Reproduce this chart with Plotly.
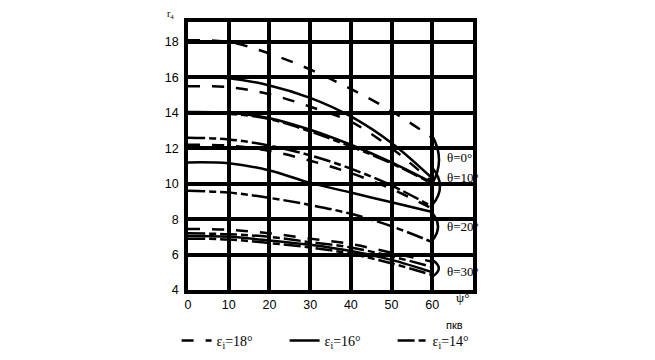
import plotly.graph_objects as go

# crank angle, degrees
psi = [0, 10, 20, 30, 40, 50, 60]

# theta = 0 deg group
r_t0_e18 = [18.1, 18.0, 17.35, 16.45, 15.35, 14.1, 12.6]
r_t0_e16 = [16.0, 15.95, 15.55, 14.85, 13.8, 12.3, 10.3]
r_t0_e14 = [14.0, 13.95, 13.65, 12.95, 12.1, 11.15, 10.0]
# theta = 10 deg group
r_t10_e18 = [15.5, 15.45, 15.05, 14.35, 13.5, 12.0, 10.1]
r_t10_e16 = [14.05, 14.0, 13.7, 13.05, 12.2, 11.2, 10.05]
r_t10_e14 = [12.6, 12.5, 12.15, 11.6, 10.85, 9.9, 8.7]
# theta = 20 deg group
r_t20_e18 = [12.2, 12.15, 11.85, 11.3, 10.6, 9.7, 8.6]
r_t20_e16 = [11.2, 11.15, 10.75, 10.05, 9.5, 8.95, 8.4]
r_t20_e14 = [9.6, 9.5, 9.2, 8.8, 8.3, 7.6, 6.7]
# theta = 30 deg group
r_t30_e18 = [7.45, 7.4, 7.2, 6.9, 6.6, 6.1, 5.6]
r_t30_e14a = [7.2, 7.15, 7.0, 6.7, 6.4, 5.9, 5.3]
r_t30_e16 = [7.05, 7.0, 6.8, 6.55, 6.2, 5.7, 5.0]
r_t30_e14 = [6.9, 6.85, 6.65, 6.4, 6.05, 5.5, 4.85]

x_ticks = [0, 10, 20, 30, 40, 50, 60]
y_ticks = [4, 6, 8, 10, 12, 14, 16, 18]
theta_labels = ["θ=0°", "θ=10°", "θ=20°", "θ=30°"]
theta_label_y = [11.5, 10.35, 7.56, 5.02]
eps_names = {"18": "ε<sub>i</sub>=18°", "16": "ε<sub>i</sub>=16°", "14": "ε<sub>i</sub>=14°"}

curves = [
    (r_t0_e18, "18"), (r_t0_e16, "16"), (r_t0_e14, "14"),
    (r_t10_e18, "18"), (r_t10_e16, "16"), (r_t10_e14, "14"),
    (r_t20_e18, "18"), (r_t20_e16, "16"), (r_t20_e14, "14"),
    (r_t30_e18, "18"), (r_t30_e14a, "14"), (r_t30_e16, "16"), (r_t30_e14, "14"),
]

dash_style = {"18": "12px,12px", "16": "solid", "14": "17px,4px,7px,4px"}
rank = {"18": 1, "16": 2, "14": 3}

fig = go.Figure()
shown = set()
for vals, eps in curves:
    fig.add_trace(go.Scatter(
        x=psi, y=vals, mode="lines", line_shape="spline",
        line=dict(color="black", width=2.5, dash=dash_style[eps]),
        name=eps_names[eps], legendrank=rank[eps],
        showlegend=eps not in shown, hoverinfo="skip",
    ))
    shown.add(eps)

# brackets grouping the curve ends
brackets = [(12.7, 10.0, 63.3), (10.9, 8.8, 63.8), (8.35, 6.8, 62.8), (5.7, 4.75, 63.2)]
for top, bot, cx in brackets:
    fig.add_shape(type="path", xref="x", yref="y",
                  path=f"M 60,{top} Q {cx},{(top + bot) / 2} 60,{bot}",
                  line=dict(color="black", width=2.5))

for txt, yy in zip(theta_labels, theta_label_y):
    fig.add_annotation(x=63.0, y=yy, xref="x", yref="y", text=txt, showarrow=False,
                       xanchor="left", yanchor="middle",
                       font=dict(family="Liberation Serif", size=13, color="black"))

fig.add_annotation(x=67.3, y=-0.028, xref="x", yref="paper", text="ψ°", showarrow=False,
                   xanchor="center", yanchor="middle",
                   font=dict(family="Liberation Serif", size=13, color="black"))
fig.add_annotation(x=65.5, y=-0.13, xref="x", yref="paper", text="пкв", showarrow=False,
                   xanchor="center", yanchor="middle",
                   font=dict(family="Liberation Sans", size=11, color="black"))
fig.add_annotation(x=-0.063, y=1.027, xref="paper", yref="paper", text="r<sub>4</sub>",
                   showarrow=False, xanchor="center", yanchor="middle",
                   font=dict(family="Liberation Serif", size=10, color="black"))

fig.update_layout(
    width=647, height=352,
    margin=dict(l=180, r=182, t=14, b=70, autoexpand=False),
    paper_bgcolor="white", plot_bgcolor="white",
    font=dict(family="Liberation Sans", size=12.5, color="black"),
    showlegend=True,
    legend=dict(orientation="h", x=-0.04, xanchor="left", y=-0.19, yanchor="middle",
                font=dict(family="Liberation Serif", size=14, color="black"),
                entrywidth=63, entrywidthmode="pixels", bgcolor="rgba(0,0,0,0)",
                tracegroupgap=0),
    xaxis=dict(range=[0, 70], tickvals=x_ticks, showgrid=True, gridcolor="black",
               gridwidth=3.5, showline=True, linecolor="black", linewidth=3.5,
               mirror=True, zeroline=False, ticks="", fixedrange=True),
    yaxis=dict(range=[4, 19.13], tickvals=y_ticks, showgrid=True, gridcolor="black",
               gridwidth=3.5, showline=True, linecolor="black", linewidth=3.5,
               mirror=True, zeroline=False, ticks="outside", ticklen=3,
               tickcolor="rgba(0,0,0,0)", fixedrange=True),
)

fig.write_html("out.html")
